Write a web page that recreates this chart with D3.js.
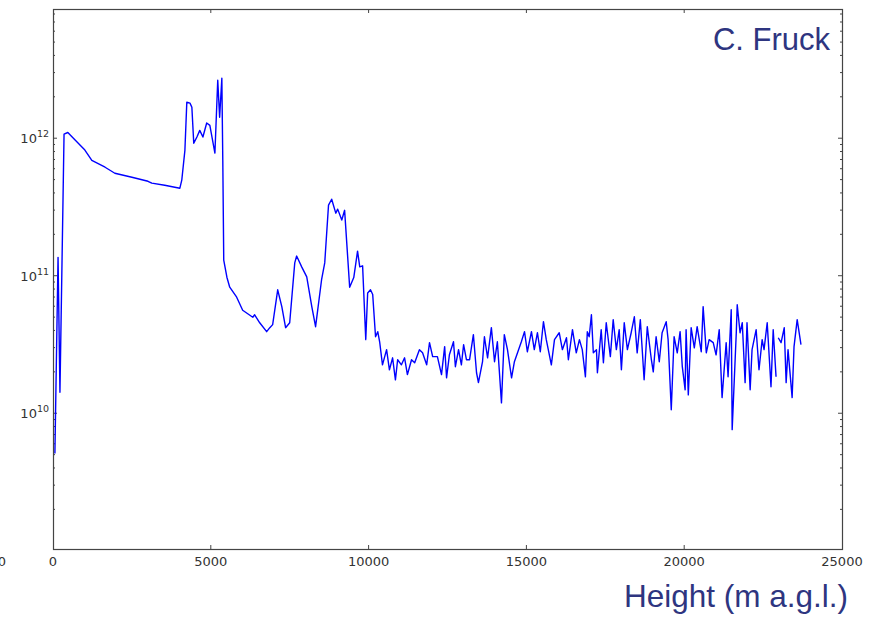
<!DOCTYPE html>
<html lang="en">
<head>
<meta charset="UTF-8">
<title>Concentration vs height</title>
<script src="https://d3js.org/d3.v7.min.js"></script>
<style>
    body, html { margin: 0; background: #fff; }
    svg { display: block; }
    .tick-label { font-family: 'DejaVu Sans', sans-serif; font-size: 13px; fill: #333; }
    .note { font-family: 'Liberation Sans', Arial, sans-serif; fill: #2e3580; }
</style>
</head>
<body>
<script>
// height above ground (m)
const heights = [
    60, 160, 220, 350, 470, 700, 1010, 1230, 1650, 1960, 2500, 3010, 3130, 3540, 4020,
    4080, 4180, 4240, 4340, 4400, 4460, 4560, 4650, 4750, 4870, 4970, 5130, 5220, 5280,
    5350, 5380, 5410, 5510, 5600, 5820, 6010, 6330, 6390, 6550, 6770, 6870, 6960, 7120,
    7250, 7370, 7500, 7660, 7720, 7880, 8040, 8200, 8320, 8510, 8610, 8730, 8830, 8960,
    9020, 9150, 9240, 9400, 9530, 9650, 9720, 9810, 9910, 9970, 10060, 10130, 10220, 10290,
    10350, 10440, 10570, 10660, 10760, 10850, 10920, 11040, 11140, 11230, 11360, 11460,
    11610, 11710, 11840, 11930, 12030, 12180, 12310, 12410, 12470, 12560, 12690, 12750,
    12850, 12940, 13010, 13100, 13200, 13320, 13420, 13480, 13610, 13670, 13770, 13890,
    13990, 14080, 14210, 14300, 14400, 14530, 14620, 14840, 14940, 15030, 15160, 15250,
    15350, 15440, 15540, 15630, 15790, 15890, 16040, 16140, 16270, 16330, 16460, 16580,
    16680, 16770, 16870, 16930, 16990, 17060, 17120, 17220, 17250, 17370, 17440, 17530,
    17660, 17750, 17850, 17940, 18010, 18100, 18200, 18320, 18420, 18510, 18610, 18730,
    18830, 18960, 19020, 19110, 19210, 19300, 19430, 19490, 19590, 19680, 19780, 19870,
    19940, 20030, 20060, 20130, 20220, 20320, 20410, 20540, 20600, 20700, 20790, 20920,
    21010, 21110, 21200, 21330, 21390, 21490, 21520, 21650, 21680, 21770, 21840, 21930,
    21990, 22090, 22150, 22280, 22370, 22470, 22530, 22630, 22750, 22820, 22910, 22950,
    22980, 23070, 23170, 23230, 23290, 23420, 23480, 23580, 23700
];

// measured value at each height (null = missing)
const values = [
    5.1e9, 1.36e11, 1.42e10, 1.07e12, 1.1e12, 9.7e11, 8.2e11, 6.9e11, 6.15e11, 5.56e11, 5.2e11, 4.86e11, 4.71e11, 4.55e11, 4.33e11,
    4.95e11, 8.2e11, 1.83e12, 1.8e12, 1.68e12, 9.2e11, 1.02e12, 1.14e12, 1.02e12, 1.29e12, 1.24e12, 7.8e11, 2.64e12, 1.42e12,
    2.73e12, 6.9e11, 1.3e11, 9.75e10, 8.25e10, 6.98e10, 5.61e10, 4.99e10, 5.2e10, 4.55e10, 3.92e10, 4.19e10, 4.41e10, 7.9e10,
    5.96e10, 4.19e10, 4.55e10, 1.24e11, 1.39e11, 1.16e11, 9.8e10, 5.96e10, 4.26e10, 9.35e10, 1.24e11, 3.26e11, 3.6e11, 2.85e11,
    3.05e11, 2.54e11, 2.99e11, 8.25e10, 9.7e10, 1.51e11, 1.16e11, 1.18e11, 3.43e10, 7.5e10, 7.9e10, 7.3e10, 3.6e10, 3.92e10,
    3.31e10, 2.25e10, 2.9e10, 2.07e10, 2.53e10, 1.75e10, 2.45e10, 2.25e10, 2.53e10, 1.91e10, 2.45e10, 2.33e10,
    2.9e10, 2.75e10, 2.25e10, 3.26e10, 2.58e10, 2.58e10, 1.91e10, 3.05e10, 1.81e10, 2.66e10, 3.31e10, 2.18e10,
    2.9e10, 2.25e10, 3.15e10, 2.45e10, 2.45e10, 3.73e10, 1.97e10, 1.67e10, 2.37e10, 3.6e10, 2.53e10, 4.19e10,
    2.37e10, 3.31e10, 1.19e10, 3.73e10, 2.9e10, 1.81e10, 2.37e10, 3.31e10, 3.92e10, 2.8e10, 3.92e10, 2.9e10,
    3.85e10, 2.8e10, 4.63e10, 3.43e10, 2.25e10, 3.43e10, 3.85e10, 2.9e10, 3.54e10, 2.45e10, 4.05e10, 2.75e10,
    3.43e10, 2.9e10, 1.84e10, 3.92e10, 3.6e10, 5.2e10, 2.75e10, 2.9e10, 1.97e10, 4.05e10, 2.33e10, 4.55e10,
    2.58e10, 4.79e10, 2.9e10, 4.05e10, 2.07e10, 4.55e10, 2.9e10, 3.85e10, 5.03e10, 2.75e10, 4.79e10, 1.75e10,
    4.26e10, 2.45e10, 2.0e10, 3.6e10, 2.37e10, 3.85e10, 4.63e10, 3.43e10, 1.06e10, 3.6e10, 2.75e10, 3.92e10,
    2.18e10, 1.48e10, 4.05e10, 1.36e10, 4.19e10, 2.99e10, 4.26e10, 2.8e10, 5.96e10, 2.75e10, 3.43e10, 3.26e10,
    2.66e10, 4.05e10, 1.3e10, 3.26e10, 1.84e10, 5.66e10, 7.6e9, 3.85e10, 6.15e10, 3.85e10, 4.55e10, 1.67e10,
    4.55e10, 1.48e10, 2.9e10, 4.05e10, 2.07e10, 3.43e10, 2.9e10, 4.55e10, 1.56e10, 4.05e10, 1.84e10, null,
    3.54e10, 3.26e10, 4.19e10, 1.67e10, 2.9e10, 1.3e10, 3.05e10, 4.79e10, 3.15e10
];

const xTicks = [0, 5000, 10000, 15000, 20000, 25000];
const yMajor = [1e10, 1e11, 1e12];
const yLabels = ["10", "11", "12"]; // exponent for each major tick

const width = 876, height = 617;
const margin = {top: 9, right: 34, bottom: 68, left: 53};

const svg = d3.select("body").append("svg")
    .attr("width", width)
    .attr("height", height);

const x = d3.scaleLinear()
    .domain([0, 25000])
    .range([margin.left, width - margin.right]);

const y = d3.scaleLog()
    .domain([1.03e9, 8.7e12])
    .range([height - margin.bottom, margin.top]);

const data = heights.map((h, i) => ({h: h, v: values[i]}));

// minor ticks for log axis
const yMinor = y.ticks().filter(t => yMajor.indexOf(t) < 0);

const x0 = x.range()[0], x1 = x.range()[1];
const y0 = y.range()[0], y1 = y.range()[1];
const axisColor = "#444";

// ticks, inward on all four sides
const ticks = svg.append("g").attr("stroke", axisColor).attr("stroke-width", 1);
xTicks.slice(1, -1).forEach(t => {
    ticks.append("line").attr("x1", x(t)).attr("x2", x(t)).attr("y1", y0).attr("y2", y0 - 4);
    ticks.append("line").attr("x1", x(t)).attr("x2", x(t)).attr("y1", y1).attr("y2", y1 + 4);
});
yMajor.forEach(t => {
    ticks.append("line").attr("x1", x0).attr("x2", x0 + 4).attr("y1", y(t)).attr("y2", y(t));
    ticks.append("line").attr("x1", x1).attr("x2", x1 - 4).attr("y1", y(t)).attr("y2", y(t));
});
yMinor.forEach(t => {
    ticks.append("line").attr("x1", x0).attr("x2", x0 + 2).attr("y1", y(t)).attr("y2", y(t));
    ticks.append("line").attr("x1", x1).attr("x2", x1 - 2).attr("y1", y(t)).attr("y2", y(t));
});

// data line
const line = d3.line()
    .defined(d => d.v !== null)
    .x(d => x(d.h))
    .y(d => y(d.v));

svg.append("path")
    .datum(data)
    .attr("fill", "none")
    .attr("stroke", "#0000ff")
    .attr("stroke-width", 1.4)
    .attr("stroke-linejoin", "round")
    .attr("d", line);

// frame
svg.append("rect")
    .attr("x", x0 + 0.5)
    .attr("y", y1 + 0.5)
    .attr("width", x1 - x0)
    .attr("height", y0 - y1)
    .attr("fill", "none")
    .attr("stroke", axisColor)
    .attr("stroke-width", 1.2);

// x tick labels
svg.selectAll(".xlab")
    .data(xTicks)
    .join("text")
    .attr("class", "tick-label")
    .attr("x", d => x(d))
    .attr("y", y0 + 17)
    .attr("text-anchor", "middle")
    .text(d => d);

// label partly cut at the left edge, as in the original
svg.append("text")
    .attr("class", "tick-label")
    .attr("x", 6)
    .attr("y", y0 + 17)
    .attr("text-anchor", "end")
    .text("0");

// y tick labels, 10 with superscript exponent
yMajor.forEach((t, i) => {
    const g = svg.append("text")
        .attr("class", "tick-label")
        .attr("x", 49)
        .attr("y", y(t) + 5)
        .attr("text-anchor", "end");
    g.append("tspan").text("10");
    g.append("tspan")
        .attr("font-size", "9.5px")
        .attr("dy", -6)
        .text(yLabels[i]);
});

// annotations
svg.append("text")
    .attr("class", "note")
    .attr("x", 830)
    .attr("y", 50)
    .attr("text-anchor", "end")
    .attr("font-size", "31px")
    .text("C. Fruck");

svg.append("text")
    .attr("class", "note")
    .attr("x", 848)
    .attr("y", 607)
    .attr("text-anchor", "end")
    .attr("font-size", "31.5px")
    .text("Height (m a.g.l.)");
</script>
</body>
</html>
